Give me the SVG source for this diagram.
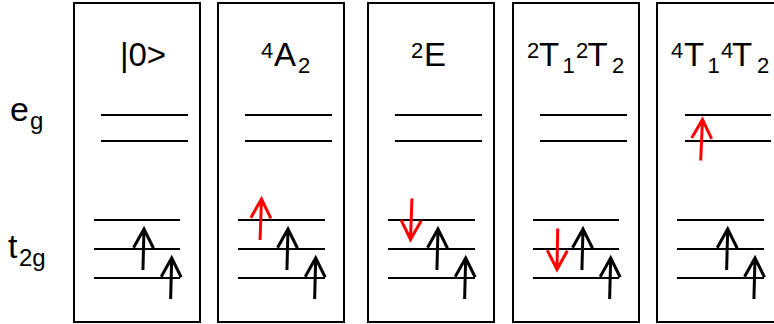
<svg xmlns="http://www.w3.org/2000/svg" width="774" height="324" viewBox="0 0 774 324">
<style>
.box{fill:#fff;stroke:#000;stroke-width:2}
.lvl{stroke:#000;stroke-width:2}
.t{font-family:"Liberation Sans",Arial,sans-serif;fill:#000}
.m{font-size:33px}
.s{font-size:22px}
.arr{fill:none;stroke-width:3;stroke-linecap:butt;stroke-linejoin:miter}
.k{stroke:#000}
.r{stroke:#ff0000}
</style>
<defs>
<path id="up" d="M0,41 L0,0 M-10,19 L0,0 L10,19"/>
</defs>
<rect width="774" height="324" fill="#fff"/>
<g id="labels">
<text class="t" x="10" y="121" font-size="34">e</text>
<text class="t" x="30" y="129" font-size="24">g</text>
<text class="t" x="8" y="258" font-size="34">t</text>
<text class="t" x="19" y="266" font-size="24">2g</text>
</g>
<g id="state-0">
<rect class="box" x="74" y="3" width="126" height="319"/>
<text class="t m" x="143" y="66" text-anchor="middle">|0&gt;</text>
<line class="lvl" x1="101" y1="115" x2="188" y2="115"/>
<line class="lvl" x1="101" y1="141" x2="188" y2="141"/>
<line class="lvl" x1="94" y1="220" x2="180" y2="220"/>
<line class="lvl" x1="94" y1="249" x2="180" y2="249"/>
<line class="lvl" x1="94" y1="278" x2="180" y2="278"/>
</g>
<g id="state-4A2">
<rect class="box" x="218" y="3" width="126" height="319"/>
<text class="t"><tspan class="s" x="261" y="58">4</tspan><tspan class="m" x="274" y="66">A</tspan><tspan class="s" x="298" y="73">2</tspan></text>
<line class="lvl" x1="245" y1="115" x2="332" y2="115"/>
<line class="lvl" x1="245" y1="141" x2="332" y2="141"/>
<line class="lvl" x1="238" y1="220" x2="325" y2="220"/>
<line class="lvl" x1="238" y1="249" x2="325" y2="249"/>
<line class="lvl" x1="238" y1="278" x2="325" y2="278"/>
</g>
<g id="state-2E">
<rect class="box" x="368" y="3" width="126" height="319"/>
<text class="t"><tspan class="s" x="411" y="58">2</tspan><tspan class="m" x="424" y="66">E</tspan></text>
<line class="lvl" x1="395" y1="115" x2="482" y2="115"/>
<line class="lvl" x1="395" y1="141" x2="482" y2="141"/>
<line class="lvl" x1="388" y1="220" x2="475" y2="220"/>
<line class="lvl" x1="388" y1="249" x2="475" y2="249"/>
<line class="lvl" x1="388" y1="278" x2="475" y2="278"/>
</g>
<g id="state-2T">
<rect class="box" x="513" y="3" width="126" height="319"/>
<text class="t"><tspan class="s" x="527" y="58">2</tspan><tspan class="m" x="539" y="66">T</tspan><tspan class="s" x="562.5" y="73">1</tspan><tspan class="s" x="576" y="58">2</tspan><tspan class="m" x="587.5" y="66">T</tspan><tspan class="s" x="612" y="73">2</tspan></text>
<line class="lvl" x1="540" y1="115" x2="627" y2="115"/>
<line class="lvl" x1="540" y1="141" x2="627" y2="141"/>
<line class="lvl" x1="533" y1="220" x2="619" y2="220"/>
<line class="lvl" x1="533" y1="249" x2="619" y2="249"/>
<line class="lvl" x1="533" y1="278" x2="619" y2="278"/>
</g>
<g id="state-4T">
<rect class="box" x="657" y="3" width="126" height="319"/>
<text class="t"><tspan class="s" x="671" y="58">4</tspan><tspan class="m" x="684" y="66">T</tspan><tspan class="s" x="707.5" y="73">1</tspan><tspan class="s" x="721" y="58">4</tspan><tspan class="m" x="732" y="66">T</tspan><tspan class="s" x="757" y="73">2</tspan></text>
<line class="lvl" x1="685" y1="115" x2="771" y2="115"/>
<line class="lvl" x1="685" y1="141" x2="771" y2="141"/>
<line class="lvl" x1="677" y1="220" x2="764" y2="220"/>
<line class="lvl" x1="677" y1="249" x2="764" y2="249"/>
<line class="lvl" x1="677" y1="278" x2="764" y2="278"/>
</g>
<g id="connectors">
<use href="#up" class="arr k" transform="translate(144,229) rotate(1.5)"/>
<use href="#up" class="arr k" transform="translate(171.7,258) rotate(1.5)"/>
<use href="#up" class="arr k" transform="translate(288,229) rotate(1.5)"/>
<use href="#up" class="arr k" transform="translate(315.7,258) rotate(1.5)"/>
<use href="#up" class="arr k" transform="translate(438,229) rotate(1.5)"/>
<use href="#up" class="arr k" transform="translate(465.7,258) rotate(1.5)"/>
<use href="#up" class="arr k" transform="translate(583,229) rotate(1.5)"/>
<use href="#up" class="arr k" transform="translate(610.7,258) rotate(1.5)"/>
<use href="#up" class="arr k" transform="translate(727.7,229) rotate(1.5)"/>
<use href="#up" class="arr k" transform="translate(755,258) rotate(1.5)"/>
<use href="#up" class="arr r" transform="translate(261.5,199) rotate(2)"/>
<use href="#up" class="arr r" transform="translate(410.5,239.5) rotate(182)"/>
<use href="#up" class="arr r" transform="translate(557,269.5) rotate(181)"/>
<use href="#up" class="arr r" transform="translate(702.5,119.5) rotate(2.5)"/>
</g>
</svg>
